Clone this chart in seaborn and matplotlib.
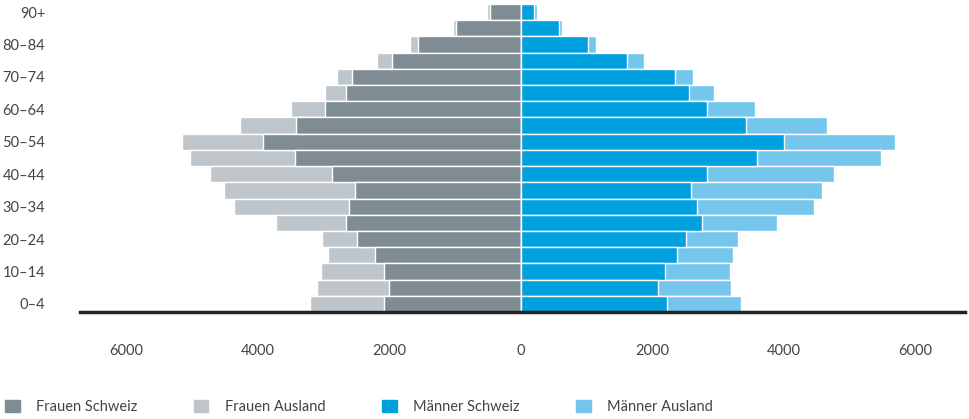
import numpy as np
import pandas as pd
import seaborn as sns
import matplotlib.pyplot as plt
from matplotlib.patches import Patch
from matplotlib.ticker import FuncFormatter

# age groups from young to old
ages = ["0–4", "5–9", "10–14", "15–19", "20–24", "25–29", "30–34", "35–39",
        "40–44", "45–49", "50–54", "55–59", "60–64", "65–69", "70–74",
        "75–79", "80–84", "85–89", "90+"]
frauen_schweiz = [2087, 2005, 2076, 2224, 2483, 2656, 2616, 2514, 2865, 3440,
                  3924, 3415, 2982, 2661, 2560, 1954, 1562, 982, 473]
frauen_ausland = [1124, 1094, 957, 707, 535, 1069, 1745, 1990, 1857, 1588,
                  1226, 855, 504, 321, 234, 225, 122, 52, 46]
maenner_schweiz = [2218, 2081, 2188, 2377, 2509, 2758, 2682, 2580, 2824, 3583,
                   4005, 3425, 2835, 2555, 2336, 1608, 1023, 575, 194]
maenner_ausland = [1121, 1115, 983, 844, 784, 1140, 1776, 1996, 1935, 1887,
                   1674, 1227, 722, 381, 280, 260, 122, 46, 50]
shown_labels = ["0–4", "10–14", "20–24", "30–34", "40–44", "50–54",
                "60–64", "70–74", "80–84", "90+"]

c_fs = "#7f8c94"
c_fa = "#bec6cb"
c_ms = "#009fde"
c_ma = "#74c6ec"

sns.set_style("white")
plt.rcParams["font.family"] = ["Lato", "DejaVu Sans"]

dt = pd.DataFrame({
    "age": ages,
    "fs": np.array(frauen_schweiz),
    "fa": np.array(frauen_ausland),
    "ms": np.array(maenner_schweiz),
    "ma": np.array(maenner_ausland),
})
dt["f_total"] = -(dt["fs"] + dt["fa"])
dt["f_ch"] = -dt["fs"]
dt["m_total"] = dt["ms"] + dt["ma"]
dt["m_ch"] = dt["ms"]

order = ages[::-1]
fig = plt.figure(figsize=(9.7, 4.19), dpi=100)
ax = fig.add_axes([80 / 970, 1 - 312 / 419, 885 / 970, 308 / 419])

bar_kw = dict(y="age", order=order, orient="h", width=1.0,
              edgecolor="white", linewidth=1.0, ax=ax)
sns.barplot(data=dt, x="f_total", color=c_fa, saturation=1, **bar_kw)
sns.barplot(data=dt, x="f_ch", color=c_fs, saturation=1, **bar_kw)
sns.barplot(data=dt, x="m_total", color=c_ma, saturation=1, **bar_kw)
sns.barplot(data=dt, x="m_ch", color=c_ms, saturation=1, **bar_kw)

ax.set_xlim(-6700, 6750)
ax.set_ylim(len(ages) - 0.5, -0.5)
ax.set(xlabel="", ylabel="")
ax.set_xticks([-6000, -4000, -2000, 0, 2000, 4000, 6000])
ax.xaxis.set_major_formatter(FuncFormatter(lambda v, p: f"{abs(int(v))}"))
ax.set_yticks([order.index(a) for a in shown_labels])
ax.set_yticklabels(shown_labels)
ax.tick_params(axis="x", length=0, pad=23, labelsize=10.5, labelcolor="#444444")
ax.tick_params(axis="y", length=0, pad=25, labelsize=10.5, labelcolor="#444444")

for s in ["top", "right", "left"]:
    ax.spines[s].set_visible(False)
ax.spines["bottom"].set_color("#222222")
ax.spines["bottom"].set_linewidth(2.5)

handles = [Patch(color=c_fs, label="Frauen Schweiz"),
           Patch(color=c_fa, label="Frauen Ausland"),
           Patch(color=c_ms, label="Männer Schweiz"),
           Patch(color=c_ma, label="Männer Ausland")]
fig.legend(handles=handles, loc="center left", bbox_to_anchor=(5 / 970, 1 - 407 / 419),
           ncol=4, frameon=False, fontsize=10.5, borderpad=0, borderaxespad=0,
           handlelength=1.0, handleheight=0.85, handletextpad=1.1,
           columnspacing=3.9, labelcolor="#444444")

plt.savefig("out.png", dpi=100)
plt.close()
